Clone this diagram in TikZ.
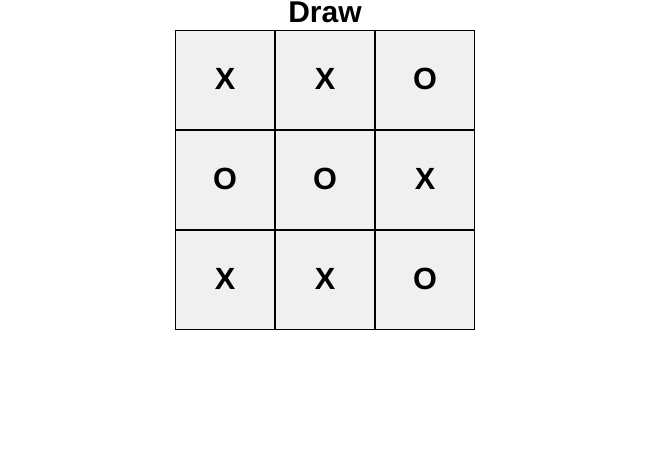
\documentclass[tikz,border=0pt]{standalone}
\usepackage{fontspec}
\setmainfont{Liberation Sans}
\definecolor{cellgray}{HTML}{F0F0F0}
\begin{document}
\begin{tikzpicture}[x=0.75pt,y=-0.75pt,
  cellbox/.style={draw=black,line width=0.75pt,fill=cellgray,minimum width=74.5pt,minimum height=74.5pt,inner sep=0pt,outer sep=0pt},
  glyph/.style={font=\bfseries\fontsize{23}{26}\selectfont,anchor=base,inner sep=0pt}]
\useasboundingbox (0,0) rectangle (651,467);
\node[font=\bfseries\fontsize{22.5}{26}\selectfont,anchor=base,inner sep=0pt] (title) at (325,22.7) {Draw};
\node[cellbox] (c11) at (225,80) {};
\node[cellbox] (c12) at (325,80) {};
\node[cellbox] (c13) at (425,80) {};
\node[cellbox] (c21) at (225,180) {};
\node[cellbox] (c22) at (325,180) {};
\node[cellbox] (c23) at (425,180) {};
\node[cellbox] (c31) at (225,280) {};
\node[cellbox] (c32) at (325,280) {};
\node[cellbox] (c33) at (425,280) {};
\draw[line width=1.5pt] (c11.north east) -- (c31.south east);
\draw[line width=1.5pt] (c12.north east) -- (c32.south east);
\draw[line width=1.5pt] (c11.south west) -- (c13.south east);
\draw[line width=1.5pt] (c21.south west) -- (c23.south east);
\node[glyph] (t11) at (225,89.5) {X};
\node[glyph] (t12) at (325,89.5) {X};
\node[glyph] (t13) at (425,89.5) {O};
\node[glyph] (t21) at (225,189.5) {O};
\node[glyph] (t22) at (325,189.5) {O};
\node[glyph] (t23) at (425,189.5) {X};
\node[glyph] (t31) at (225,289.5) {X};
\node[glyph] (t32) at (325,289.5) {X};
\node[glyph] (t33) at (425,289.5) {O};
\end{tikzpicture}
\end{document}
